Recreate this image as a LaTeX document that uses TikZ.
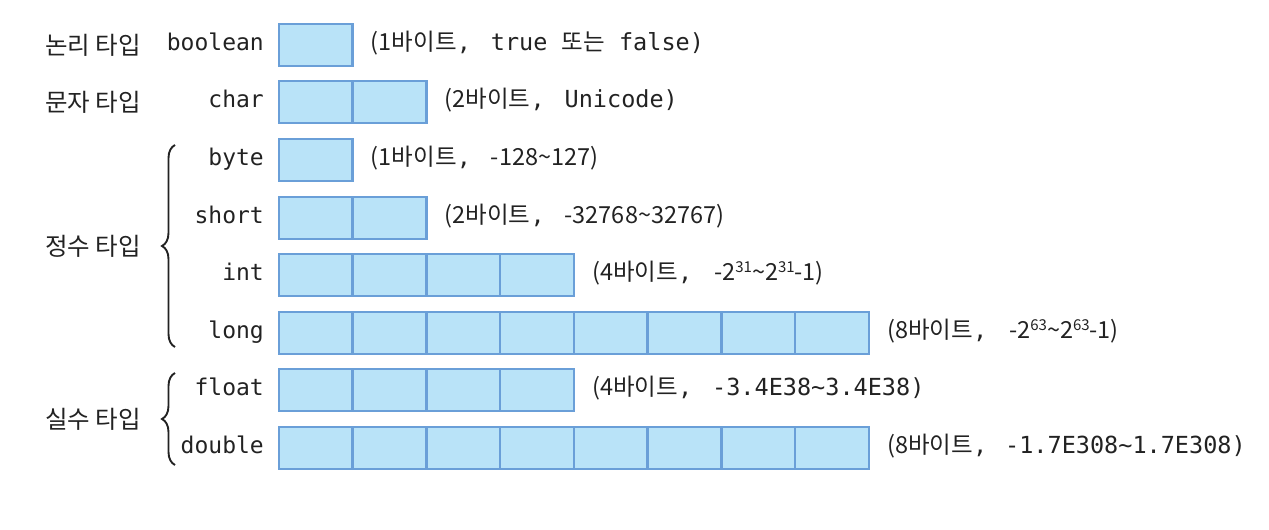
\documentclass[tikz,border=0pt]{standalone}
\usepackage{fontspec}
\setmonofont{DejaVu Sans Mono}
\newfontfamily\kr{Noto Sans CJK KR}
\usetikzlibrary{decorations.pathreplacing}
\definecolor{cellfill}{HTML}{B9E3F8}
\definecolor{celledge}{HTML}{6A9FD8}
\definecolor{ink}{HTML}{222222}
\newcommand{\lead}[2]{\makebox[#1pt][l]{#2{\ttfamily,}}}
\newcommand{\pw}[1]{\raisebox{8pt}{\fontsize{15}{17}\selectfont #1}}
\begin{document}
\begin{tikzpicture}[x=1pt,y=-1pt,
  cell/.style={draw=celledge, fill=cellfill, line width=2.5pt, minimum width=73.75pt, minimum height=42pt, inner sep=0pt, anchor=west},
  tname/.style={font=\fontsize{23}{27}\selectfont\ttfamily, text=ink, anchor=east, text height=16pt, text depth=5pt, inner sep=0pt},
  grp/.style={font=\fontsize{24.5}{28}\selectfont\kr, text=ink, anchor=east, inner sep=0pt},
  note/.style={font=\fontsize{23.5}{27}\selectfont\kr, text=ink, anchor=west, text height=16pt, text depth=5pt, inner sep=0pt},
  brc/.style={decorate, decoration={brace, amplitude=13pt, mirror}, draw=ink, line width=1.9pt}]
\useasboundingbox (0,0) rectangle (1269,530);
% cells
\foreach \nm/\yy/\n in {boolean/45/1, char/102/2, byte/160/1, short/218/2, int/275/4, long/333/8, float/390/4, double/448/8}{
  \foreach \i in {1,...,\n}{
    \node[cell] (\nm-\i) at ({277.5+(\i-1)*73.75},\yy) {};
  }
  \node[tname] (t-\nm) at (264,\yy) {\nm};
}
% notes
\node[note] (n-boolean) at ([xshift=17pt]boolean-1.east) {\lead{120}{(1바이트}{\ttfamily true }또는{\ttfamily\ false)}};
\node[note] (n-char) at ([xshift=17pt]char-2.east) {\lead{120}{(2바이트}{\ttfamily Unicode)}};
\node[note] (n-byte) at ([xshift=17pt]byte-1.east) {\lead{120}{(1바이트}-128\textasciitilde127)};
\node[note] (n-short) at ([xshift=17pt]short-2.east) {\lead{120}{(2바이트}-32768\textasciitilde32767)};
\node[note] (n-int) at ([xshift=17pt]int-4.east) {\lead{122}{(4바이트}-2\pw{31}\textasciitilde2\pw{31}-1)};
\node[note] (n-long) at ([xshift=17pt]long-8.east) {\lead{122}{(8바이트}-2\pw{63}\textasciitilde2\pw{63}-1)};
\node[note] (n-float) at ([xshift=17pt]float-4.east) {\lead{120}{(4바이트}{\ttfamily -3.4E38\textasciitilde3.4E38)}};
\node[note] (n-double) at ([xshift=17pt]double-8.east) {\lead{118}{(8바이트}{\ttfamily -1.7E308\textasciitilde1.7E308)}};
% group labels
\node[grp] (g-bool) at (141,45) {논리 타입};
\node[grp] (g-char) at (141,102) {문자 타입};
\node[grp] (g-int) at (141,246) {정수 타입};
\node[grp] (g-real) at (141,419) {실수 타입};
% braces
\coordinate (bi-top) at (175,145);
\coordinate (bi-bot) at (175,347);
\coordinate (br-top) at (175,373);
\coordinate (br-bot) at (175,465);
\draw[brc] (bi-top) -- (bi-bot);
\draw[brc] (br-top) -- (br-bot);
\end{tikzpicture}
\end{document}
